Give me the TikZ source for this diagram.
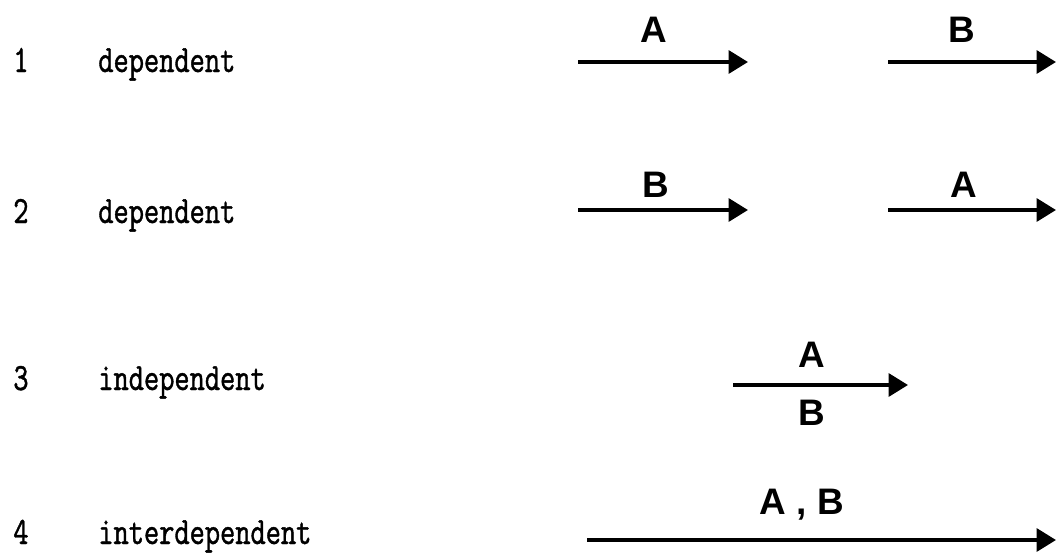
\documentclass[tikz,border=0pt]{standalone}
\usepackage{fontspec}
\setmainfont{Liberation Serif}
\newfontfamily\typefont[FakeStretch=0.75,FakeBold=1]{lmmono10-regular.otf}
\newfontfamily\labelfont{Liberation Sans}
\usetikzlibrary{arrows.meta}

\begin{document}
\begin{tikzpicture}[x=0.02cm, y=-0.02cm,
    rownum/.style={anchor=base west, inner sep=0pt, font=\typefont\fontsize{22}{26}\selectfont},
    kind/.style={anchor=base west, inner sep=0pt, font=\typefont\fontsize{22}{26}\selectfont},
    tag/.style={inner sep=0pt, font=\labelfont\bfseries\fontsize{21}{24}\selectfont},
    flow/.style={line width=2pt, -{Triangle[length=11pt,width=13pt]}}]
  \useasboundingbox (0,0) rectangle (1056,555);

  % row labels
  \node[rownum] (n1) at (13,72) {1};
  \node[kind] (k1) at (98,72) {dependent};
  \node[rownum] (n2) at (13,223) {2};
  \node[kind] (k2) at (98,223) {dependent};
  \node[rownum] (n3) at (13,390) {3};
  \node[kind] (k3) at (98,390) {independent};
  \node[rownum] (n4) at (13,544) {4};
  \node[kind] (k4) at (98,544) {interdependent};

  % 1: A then B
  \coordinate (a1s) at (578,62);
  \coordinate (a1e) at (748,62);
  \coordinate (b1s) at (888,62);
  \coordinate (b1e) at (1056,62);
  \draw[flow] (a1s) -- (a1e);
  \draw[flow] (b1s) -- (b1e);
  \node[tag] (ta1) at (654,30) {A};
  \node[tag] (tb1) at (962,30) {B};

  % 2: B then A
  \coordinate (b2s) at (578,210);
  \coordinate (b2e) at (748,210);
  \coordinate (a2s) at (888,210);
  \coordinate (a2e) at (1056,210);
  \draw[flow] (b2s) -- (b2e);
  \draw[flow] (a2s) -- (a2e);
  \node[tag] (tb2) at (656,185) {B};
  \node[tag] (ta2) at (964,185) {A};

  % 3: side by side
  \coordinate (c3s) at (733,385);
  \coordinate (c3e) at (908,385);
  \draw[flow] (c3s) -- (c3e);
  \node[tag] (ta3) at (812,355) {A};
  \node[tag] (tb3) at (812,413) {B};

  % 4: together
  \coordinate (c4s) at (587,540);
  \coordinate (c4e) at (1056,540);
  \draw[flow] (c4s) -- (c4e);
  \node[tag] (tab4) at (802,505) {A , B};
\end{tikzpicture}
\end{document}
